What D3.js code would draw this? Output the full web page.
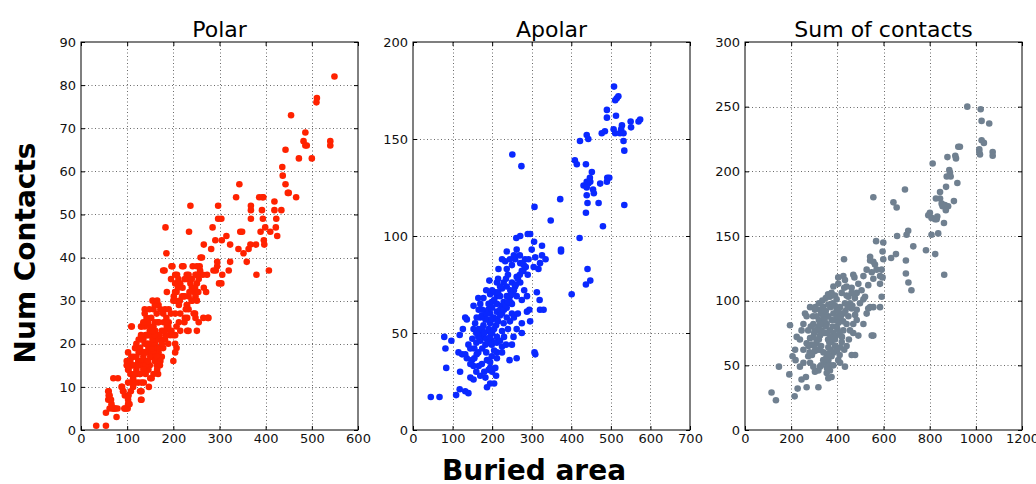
<!DOCTYPE html>
<html>
<head>
<meta charset="utf-8">
<script src="https://cdn.jsdelivr.net/npm/d3@7"></script>
<style>
  html, body { margin: 0; padding: 0; background: #fff; }
  svg { display: block; }
  text { font-family: "DejaVu Sans", sans-serif; }
</style>
</head>
<body>
<svg id="chart" width="1036" height="484"></svg>
<script>
// Buried area vs. number of contacts, one [area, contacts] pair per interface
const polarPoints = [
  [549,82],[511,77],[510,76],[455,73],[486,69],[482,67],[486,66],[489,66],[540,67],[540,66],
  [443,65],[472,63],[500,63],[436,61],[437,59],[443,57],[448,55],[450,55],[466,54],[343,57],
  [336,54],[386,54],[393,54],[395,54],[368,52],[368,51],[368,49],[392,51],[394,49],[419,53],
  [419,51],[423,49],[422,47],[425,45],[434,51],[345,46],[349,46],[389,46],[399,47],[410,46],
  [396,44],[397,43],[379,43],[367,43],[363,42],[352,41],[341,42],[359,39],[380,36],[407,37],
  [297,49],[285,47],[304,49],[297,52],[237,52],[234,46],[183,47],[185,41],[291,44],[305,44],
  [315,45],[323,43],[282,42],[266,43],[259,40],[262,40],[323,39],[295,39],[295,38],[292,37],
  [287,37],[320,37],[273,36],[306,36],[299,34],[304,34],[271,32],[255,25],[275,26],[181,37],
  [198,38],[219,38],[208,36],[195,35],[186,32],[204,32],[201,31],[204,30],[204,34],
  [230,35],[237,34],[244,33],[251,34],[255,35],[245,32],[248,31],[251,30],[240,30],[230,29],
  [227,28],[219,31],[212,29],[215,27],[233,28],[244,27],[248,26],[230,26],[224,25],[215,23],
  [230,23],[212,25],[266,33],[258,37],[264,36],[257,38],[251,38],
  [33,1],[54,1],[77,3],[54,4],[62,5],[70,5],[73,5],[59,7],[60,8],[59,9],[66,6],[70,12],[80,12],
  [88,10],[91,9],[95,8],[102,7],[99,5],[95,5],[102,6],[108,9],[128,9],[130,7],[102,11],[109,11],
  [124,11],[131,11],[107,13],[113,12],[120,14],[127,13],[153,12],[99,15],[99,16],[102,18],
  [109,17],[117,19],[120,20],[109,15],[102,14],[124,16],[131,16],[135,17],[138,18],[142,18],
  [146,19],[138,20],[131,21],[142,22],[146,22],[149,23],[138,24],[157,24],[160,25],[153,18],
  [157,17],[149,15],[146,14],[164,15],[171,15],[167,13],[175,17],[178,19],[182,21],[189,20],
  [193,22],[196,23],[186,24],[175,23],[167,25],[164,27],[157,28],[138,28],[138,27],[109,24],
  [131,24],[182,28],[185,26],[189,24],[200,22],[204,20],[207,19],[200,16],[204,18],[204,22],
  [207,24],[204,27],[200,30],[204,32],[214,30],[222,31],[229,29],[233,31],[240,30],[225,26],
  [233,23],[247,27],[251,23],[265,26],[276,26],[240,33],[247,33],[254,32],[240,35],[251,36],
  [233,36],[225,35],[211,35],[207,32],[178,37],[196,38],[204,36],[222,38],[229,36],
  [60,9],[62,8],[65,7],[69,5],[74,5],[79,5],[89,10],[92,9],[94,5],[101,5],[103,8],[105,6],
  [110,24],[130,24],[131,9],[131,7],[101,15],[103,14],[107,16],[114,17],[121,13],[128,15],
  [136,15],[143,16],[154,17],[161,18],[168,18],[165,14],[157,13],[150,12],[136,11],[147,10],
  [128,13],[172,21],[183,22],[193,23],[190,25],[179,25],[168,25],[161,23],[150,22],[143,20],
  [136,18],[157,18],
  [140,15],[145,16],[150,17],[155,19],[160,20],[165,21],[170,22],[150,20],[155,21],[160,22],
  [145,20],[150,24],[155,23],[162,17],[166,19],[170,19],[175,20],[180,23],[184,25],[178,27],
  [172,28],[168,29],[160,29],[152,26],[145,25],[140,22],[135,21],[128,19],[125,18],[120,17],
  [118,15],[115,13],[112,15],[125,21],[130,22],[135,25],[142,26],[148,28],[155,30],[165,30],
  [190,28],[195,27],[210,33],[215,34],[220,33],[225,31],[235,32],[242,38],[248,36],[160,16],
  [165,17],[172,16],[135,14],[140,13],[118,11],[113,10]
];

const apolarPoints = [
  [508,177],[515,171],[511,170],[519,172],[490,165],[490,161],[513,162],[550,159],[574,160],
  [570,159],[551,156],[528,157],[526,155],[507,155],[511,153],[523,153],[532,153],[485,154],
  [477,153],[532,149],[534,144],[534,116],[422,149],[439,152],[443,150],[409,139],[414,137],
  [437,137],[452,133],[473,127],[491,130],[496,130],[431,126],[439,128],[447,130],[443,127],
  [448,128],[439,125],[455,124],[457,122],[439,121],[441,117],[437,112],[469,117],[490,128],
  [480,105],[421,99],[401,70],[441,83],[448,77],[437,75],[372,119],[348,108],[307,115],
  [251,142],[274,136],[374,93],[374,92],[296,101],[290,101],[271,100],[261,99],[306,97],
  [300,93],[326,95],[326,90],[335,88],[321,86],[309,89],
  [262,93],[237,92],[225,88],[233,87],[250,85],[237,83],[258,88],[271,86],[283,88],[292,88],
  [305,84],[317,83],[279,82],[262,79],[250,76],[237,74],[246,72],[258,74],[271,76],[262,69],
  [275,67],[288,69],[281,72],[229,76],[225,73],[212,69],[216,83],[193,77],[212,76],
  [313,71],[320,67],[321,62],[330,62],[294,62],[288,61],[296,56],[275,55],[275,50],[262,52],
  [254,48],[250,44],[262,37],[244,36],[307,40],[309,39],
  [79,48],[82,42],[84,32],[97,46],[118,49],[126,52],[136,57],[132,58],[115,40],[124,39],
  [119,30],[118,21],[132,20],[140,19],[109,18],[45,17],[67,17],[155,37],[145,42],[140,44],
  [153,64],[166,62],[170,58],[157,55],[153,52],[166,52],[178,54],[187,57],[195,60],[191,65],
  [178,68],[195,70],[208,71],[220,69],[225,64],[212,61],[204,58],[195,55],[191,51],[178,48],
  [170,46],[183,44],[199,46],[212,48],[225,51],[229,55],[237,58],[225,43],[212,40],[199,38],
  [187,36],[174,34],[166,33],[153,33],[149,36],[161,39],[145,27],[153,26],[183,27],[191,31],
  [195,24],[205,24],[187,22],[195,32],[208,32],[212,37],[145,34],[136,37],[132,39],
  [199,44],[205,41],[212,45],[220,46],[191,52],[183,57],[174,59],[161,58],[199,57],[212,57],
  [220,59],[199,66],[212,65],[229,66],[237,69],[246,66],[237,63],[250,65],
  [160,45],[165,48],[170,50],[175,52],[180,50],[185,47],[190,45],[195,48],[200,50],[205,52],
  [210,54],[215,56],[220,62],[225,60],[230,62],[235,64],[240,66],[245,69],[250,70],[255,72],
  [260,75],[265,78],[270,80],[275,82],[280,85],[285,84],[290,80],[270,90],[255,90],[245,88],
  [240,80],[235,78],[220,74],[215,71],[205,67],[200,63],[190,62],[185,60],[175,62],[170,65],
  [165,68],[200,72],[185,72],[215,78],[160,50],[150,47],[155,42],[165,40],[175,42],[185,40],
  [195,35],[200,30],[210,28],[180,30],[170,28],[160,30],[230,48],[240,52],[245,56],[250,60],
  [255,58],[265,60],[225,40],[235,44]
];

const sumPoints = [
  [963,250],[1021,248],[1025,239],[1058,237],[1025,224],[1035,222],[1015,217],[1015,215],
  [1018,213],[1073,215],[1073,212],[924,219],[931,219],[911,212],[914,210],[920,191],[877,211],
  [813,206],[885,201],[888,199],[891,196],[874,196],[871,188],[845,184],[845,179],[852,175],
  [856,173],[866,174],[880,173],[870,170],[827,179],[833,165],[830,163],[823,163],[801,168],
  [794,166],[808,164],[905,177],[808,151],[837,152],[862,160],[824,136],[863,120],[784,139],
  [729,142],[707,154],[700,151],[693,186],[643,176],[657,172],[556,180],[659,150],[568,146],
  [599,145],[596,138],[599,132],[633,133],[654,136],[697,131],[697,121],[708,114],[721,108],
  [542,134],[542,131],[556,130],[429,132],
  [527,124],[549,122],[563,128],[570,124],[592,124],[585,119],[596,118],[556,117],[585,113],
  [534,112],[513,119],[491,113],[469,120],[474,118],[404,118],[433,116],[440,111],[462,110],
  [484,106],[505,108],[520,103],[513,101],[534,94],[527,90],[542,95],[556,95],[592,103],
  [585,95],[513,82],[556,73],[549,73],
  [462,94],[477,89],[484,85],[469,82],[455,77],[469,75],[491,73],[462,58],[477,58],[433,49],
  [412,52],[404,54],[383,50],[368,46],[354,44],[375,41],[361,40],
  [115,29],[134,23],[147,49],[192,43],[206,57],[217,62],[228,32],[215,26],[245,39],[264,41],
  [267,33],[318,33],[195,81],[219,54],[238,49],[253,52],[274,57],[282,52],[296,49],[318,46],
  [303,45],[325,49],[347,52],[361,54],
  [253,82],[267,88],[274,77],[282,71],[289,66],[303,61],[310,67],[325,73],[318,80],[310,88],
  [325,93],[339,95],[361,97],[368,103],[375,106],[390,104],[397,101],[412,95],[426,90],[412,85],
  [397,80],[383,75],[375,68],[361,64],[354,59],[339,54],[325,62],[296,72],[267,67],[253,62],
  [238,70],[224,72],[245,77],[260,90],[282,95],[303,93],[375,85],[354,82],[368,77],[390,70],
  [412,64],[419,68],[426,77],[440,82],[448,88],[433,98],[448,103],[462,106],[476,102],[498,98],
  [484,93],[419,106],[383,111],[332,77],[347,75],[310,77],[296,82],[303,77],[339,82],[361,88],
  [383,90],[397,93],[404,113],[426,119],
  [300,75],[310,70],[320,85],[330,90],[340,88],[345,85],[350,80],[355,75],[360,70],[365,68],
  [370,72],[380,80],[390,85],[400,88],[405,83],[400,78],[395,73],[390,65],[385,60],[375,57],
  [370,62],[360,58],[350,55],[340,60],[330,65],[320,70],[315,62],[300,65],[290,58],[280,60],
  [275,65],[285,80],[295,88],[305,95],[320,98],[335,100],[350,102],[360,105],[370,95],[380,98],
  [390,96],[405,92],[415,88],[425,84],[435,92],[445,95],[455,98],[465,96],[430,110],[440,104],
  [350,92],[340,75],[325,82],[410,75],[420,72],[430,62],[440,65],[450,70],[400,62],[410,58],
  [370,50],[355,48],[330,50]
];

// Panel titles, axis ranges and tick values
const panelTitles = ["Polar", "Apolar", "Sum of contacts"];
const xDomains = [[0, 600], [0, 700], [0, 1200]];
const yDomains = [[0, 90], [0, 200], [0, 300]];
const xTickValues = [d3.range(0, 601, 100), d3.range(0, 701, 100), d3.range(0, 1201, 200)];
const yTickValues = [d3.range(0, 91, 10), d3.range(0, 201, 50), d3.range(0, 301, 50)];
const seriesColors = ["#ff2200", "#0a28ff", "#708090"];
const seriesData = [polarPoints, apolarPoints, sumPoints];

const svg = d3.select("#chart");

const panelLefts = [81, 413, 745];
const panelTop = 42, panelW = 277, panelH = 388;

panelLefts.forEach((left, i) => {
  const g = svg.append("g").attr("transform", `translate(${left},${panelTop})`);
  const x = d3.scaleLinear().domain(xDomains[i]).range([0, panelW]);
  const y = d3.scaleLinear().domain(yDomains[i]).range([panelH, 0]);

  // dotted grid
  const grid = g.append("g").attr("stroke", "#444").attr("stroke-width", 0.8)
    .attr("stroke-dasharray", "1,2.5");
  xTickValues[i].slice(1, -1).forEach(v => {
    grid.append("line").attr("x1", Math.round(x(v)) + 0.5).attr("x2", Math.round(x(v)) + 0.5)
      .attr("y1", 0).attr("y2", panelH);
  });
  yTickValues[i].slice(1, -1).forEach(v => {
    grid.append("line").attr("y1", Math.round(y(v)) + 0.5).attr("y2", Math.round(y(v)) + 0.5)
      .attr("x1", 0).attr("x2", panelW);
  });

  // points
  g.append("g").selectAll("circle").data(seriesData[i]).join("circle")
    .attr("cx", d => x(d[0])).attr("cy", d => y(d[1])).attr("r", 3.3)
    .attr("fill", seriesColors[i]);

  // axes with inward ticks on all four sides
  const styleAxis = sel => {
    sel.select(".domain").remove();
    sel.selectAll("line").attr("stroke", "#000");
    sel.selectAll("text").attr("font-size", 13).attr("fill", "#111")
      .attr("font-family", "DejaVu Sans, sans-serif");
  };
  g.append("g").attr("transform", `translate(0,${panelH})`)
    .call(d3.axisBottom(x).tickValues(xTickValues[i]).tickSize(-4).tickPadding(4).tickFormat(d3.format("d")))
    .call(styleAxis);
  g.append("g")
    .call(d3.axisLeft(y).tickValues(yTickValues[i]).tickSize(-4).tickPadding(5).tickFormat(d3.format("d")))
    .call(styleAxis);
  g.append("g")
    .call(d3.axisTop(x).tickValues(xTickValues[i]).tickSize(-4).tickFormat(""))
    .call(styleAxis);
  g.append("g").attr("transform", `translate(${panelW},0)`)
    .call(d3.axisRight(y).tickValues(yTickValues[i]).tickSize(-4).tickFormat(""))
    .call(styleAxis);

  // frame
  g.append("rect").attr("x", 0).attr("y", 0).attr("width", panelW).attr("height", panelH)
    .attr("fill", "none").attr("stroke", "#000").attr("stroke-width", 1);

  // title
  g.append("text").attr("x", panelW / 2).attr("y", -5).attr("text-anchor", "middle")
    .attr("font-size", 22).attr("fill", "#000").text(panelTitles[i]);
});

// shared axis labels
svg.append("text").attr("x", 534).attr("y", 480).attr("text-anchor", "middle")
  .attr("font-size", 28).attr("font-weight", "bold").attr("fill", "#000").text("Buried area");
svg.append("text").attr("transform", "translate(35,253) rotate(-90)").attr("text-anchor", "middle")
  .attr("font-size", 28).attr("font-weight", "bold").attr("fill", "#000").text("Num Contacts");
</script>
</body>
</html>
